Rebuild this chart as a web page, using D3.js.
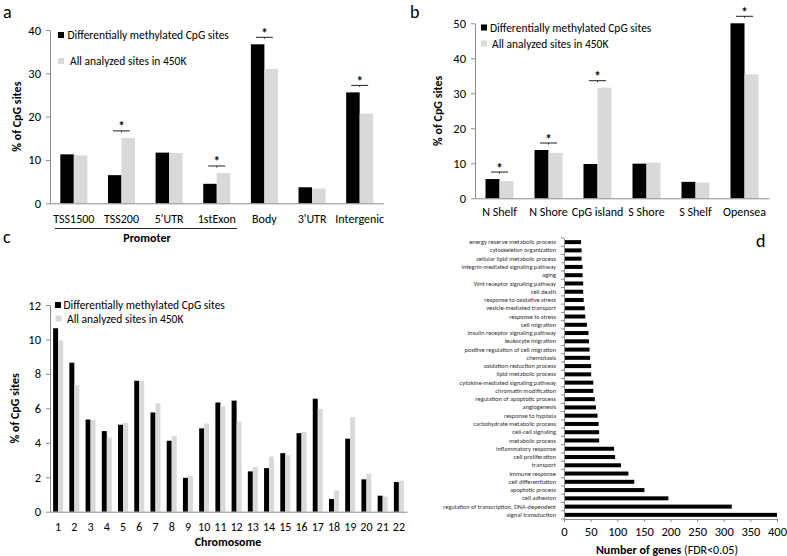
<!DOCTYPE html>
<html><head><meta charset="utf-8">
<script src="https://cdn.jsdelivr.net/npm/d3@7"></script>
<style>
body{margin:0;background:#fff}
svg{display:block}
text{font-family:Carlito,Lato,"Liberation Sans",sans-serif}
</style>
</head><body>
<svg id="chart" width="787" height="556"></svg>
<script>
// ---------- data ----------
const seriesNames = ["Differentially methylated CpG sites", "All analyzed sites in 450K"];

const regionCats = ["TSS1500", "TSS200", "5'UTR", "1stExon", "Body", "3'UTR", "Intergenic"];
const regionDM   = [11.3, 6.5, 11.7, 4.5, 36.7, 3.7, 25.6];
const regionAll  = [11.1, 15.1, 11.6, 7.0, 31.0, 3.4, 20.7];
const regionSig  = [false, true, false, true, true, false, true];
const regionTicks = [0, 10, 20, 30, 40];

const islandCats = ["N Shelf", "N Shore", "CpG island", "S Shore", "S Shelf", "Opensea"];
const islandDM   = [5.5, 13.8, 9.8, 9.9, 4.7, 50.0];
const islandAll  = [4.9, 13.0, 31.6, 10.2, 4.5, 35.4];
const islandSig  = [true, true, true, false, false, true];
const islandTicks = [0, 10, 20, 30, 40, 50];

const chromCats = ["1","2","3","4","5","6","7","8","9","10","11","12","13","14","15","16","17","18","19","20","21","22"];
const chromDM   = [10.65, 8.65, 5.35, 4.68, 5.05, 7.6, 5.76, 4.12, 1.97, 4.84, 6.34, 6.45, 2.34, 2.53, 3.4, 4.56, 6.56, 0.74, 4.24, 1.88, 0.93, 1.72];
const chromAll  = [9.95, 7.35, 5.33, 4.3, 5.15, 7.6, 6.3, 4.4, 2.08, 5.12, 6.13, 5.22, 2.6, 3.2, 3.27, 4.63, 5.97, 1.22, 5.48, 2.2, 0.88, 1.8];
const chromTicks = [0, 2, 4, 6, 8, 10, 12];

const goTerms = [
  "energy reserve metabolic process", "cytoskeleton organization", "cellular lipid metabolic process",
  "integrin-mediated signaling pathway", "aging", "Wnt receptor signaling pathway", "cell death",
  "response to oxidative stress", "vesicle-mediated transport", "response to stress", "cell migration",
  "insulin receptor signaling pathway", "leukocyte migration", "positive regulation of cell migration",
  "chemotaxis", "oxidation-reduction process", "lipid metabolic process", "cytokine-mediated signaling pathway",
  "chromatin modification", "regulation of apoptotic process", "angiogenesis", "response to hypoxia",
  "carbohydrate metabolic process", "cell-cell signaling", "metabolic process", "inflammatory response",
  "cell proliferation", "transport", "immune response", "cell differentiation", "apoptotic process",
  "cell adhesion", "regulation of transcription, DNA-dependent", "signal transduction"
];
const goGenes = [32, 33, 33, 35, 35, 36, 36, 37, 39, 40, 43, 46, 47, 48, 49, 51, 51, 55, 55, 58, 60, 63,
                 65, 66, 66, 94, 96, 107, 121, 132, 151, 196, 315, 400];
const goTicks = [0, 50, 100, 150, 200, 250, 300, 350, 400];

// ---------- drawing ----------
const svg = d3.select("#chart");
const AXIS = "#8c8c8c";
const COLORS = ["#000000", "#d9d9d9"];

function styleAxis(sel, fs) {
  sel.attr("font-family", null).attr("font-size", null);
  sel.select(".domain").attr("stroke", AXIS).attr("stroke-width", 1);
  sel.selectAll(".tick line").attr("stroke", AXIS);
  sel.selectAll(".tick text").attr("font-size", fs).attr("fill", "#000");
}

function grouped(o) {
  const g = svg.append("g");
  const x = d3.scaleBand().domain(o.cats).range(o.xr);
  const y = d3.scaleLinear().domain([0, d3.max(o.ticks)]).range(o.yr);
  const bw = x.bandwidth();
  const inner = d3.scaleBand().domain([0, 1]).range([(bw - o.gw) / 2, (bw + o.gw) / 2]);
  const series = [o.dm, o.all];

  series.forEach((vals, s) => {
    g.append("g").selectAll("rect").data(o.cats).join("rect")
      .attr("x", c => x(c) + inner(s))
      .attr("width", inner.bandwidth())
      .attr("y", (c, i) => y(vals[i]))
      .attr("height", (c, i) => y(0) - y(vals[i]))
      .attr("fill", COLORS[s]);
  });

  const ya = g.append("g").attr("transform", `translate(${o.xr[0]},0)`)
    .call(d3.axisLeft(y).tickValues(o.ticks).tickSize(4).tickSizeOuter(0).tickPadding(5));
  styleAxis(ya, o.tfs);
  const xa = g.append("g").attr("transform", `translate(0,${o.yr[0]})`)
    .call(d3.axisBottom(x).tickSize(0).tickSizeOuter(0).tickPadding(o.xpad));
  styleAxis(xa, o.xfs);

  if (o.sig) {
    o.cats.forEach((c, i) => {
      if (!o.sig[i]) return;
      const cx = x(c) + bw / 2;
      const ly = y(Math.max(o.dm[i], o.all[i])) - 7;
      g.append("line").attr("x1", cx - 8.5).attr("x2", cx + 8.5).attr("y1", ly).attr("y2", ly)
        .attr("stroke", "#222").attr("stroke-width", 1);
      g.append("line").attr("x1", cx).attr("x2", cx).attr("y1", ly).attr("y2", ly + 1.5)
        .attr("stroke", "#222").attr("stroke-width", 1);
      g.append("text").attr("x", cx).attr("y", ly + 0.5).attr("text-anchor", "middle")
        .attr("font-size", 13).attr("font-weight", "bold").text("*");
    });
  }

  // y title
  g.append("text")
    .attr("transform", `translate(${o.ytx},${(o.yr[0] + o.yr[1]) / 2}) rotate(-90)`)
    .attr("text-anchor", "middle").attr("font-size", 12).attr("font-weight", "bold")
    .text("% of CpG sites");

  // legend
  o.leg.forEach((p, s) => {
    g.append("rect").attr("x", p[0] - 3).attr("y", p[1] - 3).attr("width", 6).attr("height", 6).attr("fill", COLORS[s]);
    g.append("text").attr("x", p[2]).attr("y", p[1] + 4).attr("font-size", 11.5).text(seriesNames[s]);
  });
  return { g, x, y };
}

// panel a
const A = grouped({
  cats: regionCats, dm: regionDM, all: regionAll, sig: regionSig, ticks: regionTicks,
  xr: [50, 383.5], yr: [203.3, 30], gw: 27, tfs: 12.5, xfs: 12, xpad: 11, ytx: 21,
  leg: [[61, 35, 67.5], [61, 61, 70]]
});
A.g.append("line").attr("x1", 55).attr("x2", 237).attr("y1", 228.5).attr("y2", 228.5).attr("stroke", "#222");
A.g.append("text").attr("x", 147).attr("y", 242).attr("text-anchor", "middle")
  .attr("font-size", 12).attr("font-weight", "bold").text("Promoter");

// panel b
grouped({
  cats: islandCats, dm: islandDM, all: islandAll, sig: islandSig, ticks: islandTicks,
  xr: [475, 769], yr: [198.3, 23.3], gw: 28, tfs: 12.5, xfs: 12, xpad: 9, ytx: 442,
  leg: [[484, 27.5, 490], [484, 43.5, 492]]
});

// panel c
const C = grouped({
  cats: chromCats, dm: chromDM, all: chromAll, sig: null, ticks: chromTicks,
  xr: [50, 407], yr: [511.7, 305], gw: 10, tfs: 12.5, xfs: 12, xpad: 11, ytx: 19,
  leg: [[58, 305, 63.5], [58.5, 318.5, 67]]
});
C.g.append("text").attr("x", 228).attr("y", 546).attr("text-anchor", "middle")
  .attr("font-size", 12).attr("font-weight", "bold").text("Chromosome");

// panel d
(function () {
  const g = svg.append("g");
  const y = d3.scaleBand().domain(goTerms).range([238, 519]);
  const x = d3.scaleLinear().domain([0, 400]).range([564, 777]);
  const bh = 4;
  g.append("g").selectAll("rect").data(goTerms).join("rect")
    .attr("x", x(0))
    .attr("y", t => y(t) + (y.bandwidth() - bh) / 2)
    .attr("height", bh)
    .attr("width", (t, i) => x(goGenes[i]) - x(0))
    .attr("fill", "#000");

  const ya = g.append("g").attr("transform", `translate(${x(0)},0)`)
    .call(d3.axisLeft(y).tickSize(0).tickSizeOuter(0).tickPadding(8));
  styleAxis(ya, 6.4);
  ya.selectAll(".tick text").attr("fill", "#333");
  // category boundary tick marks
  const bounds = goTerms.map(t => y(t)).concat([y.range()[1]]);
  g.append("g").selectAll("line").data(bounds).join("line")
    .attr("x1", x(0) - 3).attr("x2", x(0)).attr("y1", d => d).attr("y2", d => d)
    .attr("stroke", AXIS);

  const xa = g.append("g").attr("transform", `translate(0,519)`)
    .call(d3.axisBottom(x).tickValues(goTicks).tickSize(3).tickSizeOuter(0).tickPadding(5));
  styleAxis(xa, 12.5);

  const t = g.append("text").attr("x", 667).attr("y", 554).attr("text-anchor", "middle").attr("font-size", 12);
  t.append("tspan").attr("font-weight", "bold").text("Number of genes ");
  t.append("tspan").text("(FDR<0.05)");
})();

// panel letters
[["a", 3, 18], ["b", 410, 18], ["c", 3, 243], ["d", 756, 247]].forEach(p => {
  svg.append("text").attr("x", p[1]).attr("y", p[2]).attr("font-size", 18).text(p[0]);
});
</script>
</body></html>
